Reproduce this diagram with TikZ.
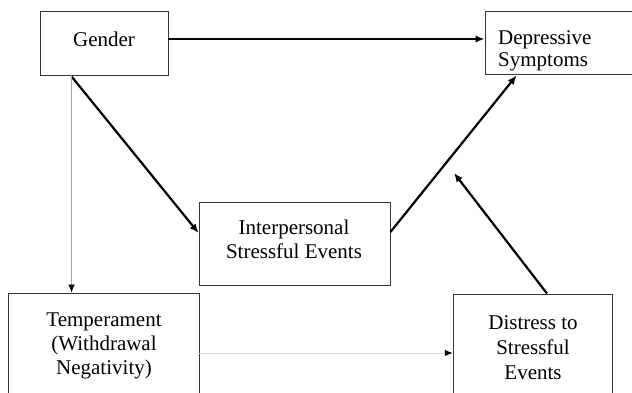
\documentclass[tikz,border=0pt]{standalone}
\usepackage{fontspec}
\setmainfont{Liberation Serif}
\usetikzlibrary{arrows.meta,calc}
\begin{document}
\begin{tikzpicture}[x=1pt,y=-1pt,
  box/.style={draw=black!80,line width=0.9pt,rectangle,inner sep=0pt},
  txt/.style={inner sep=0pt,font=\fontsize{21}{24}\selectfont},
  strong/.style={line width=2.2pt,-{Latex[length=9pt,width=7.5pt]}},
  faint/.style={line width=0.6pt,draw=black!35,-{Latex[length=8pt,width=6.5pt,color=black]}},
  fainter/.style={line width=1pt,draw=black!15,-{Latex[length=8pt,width=6.5pt,color=black]}}]
\useasboundingbox (0,0) rectangle (632,393);
% boxes
\node[box,minimum width=128pt,minimum height=64pt] (gender) at (104,43) {};
\node[box,minimum width=149pt,minimum height=63pt] (dep) at (559.5,42.5) {};
\node[box,minimum width=191pt,minimum height=83pt] (inter) at (294.5,243.5) {};
\node[box,minimum width=191pt,minimum height=110pt] (temp) at (103.5,348) {};
\node[box,minimum width=159.5pt,minimum height=110pt] (dist) at (533,349) {};
% texts
\node[txt] (gendert) at (104,39) {Gender};
\node[txt,anchor=west,align=left] (dept) at (498,51) {Depressive\\[-1.5pt]Symptoms};
\node[txt,align=center] (intert) at (294,239) {Interpersonal\\Stressful Events};
\node[txt,align=center] (tempt) at (104,345.7) {Temperament\\(Withdrawal\\Negativity)};
\node[txt,align=center] (distt) at (533,347.7) {Distress to\\[1pt]Stressful\\[1pt]Events};
% connectors
\coordinate (tdy) at (0,353);
\coordinate (dfree) at (454,173);
\draw[strong] ([yshift=4pt]gender.east) -- ([yshift=4pt]gender.east -| dep.west);
\draw[strong] ([xshift=32pt,yshift=-1pt]gender.south west) -- ([yshift=10.5pt]inter.west);
\draw[strong] ([yshift=11.5pt]inter.east) -- ([xshift=32pt,yshift=-1pt]dep.south west);
\draw[strong] ([xshift=14pt]dist.north) -- (dfree);
\draw[faint] ([xshift=32pt]gender.south west) -- ([xshift=32pt]gender.south west |- temp.north);
\draw[fainter] (temp.east |- tdy) -- (dist.west |- tdy);
\end{tikzpicture}
\end{document}
